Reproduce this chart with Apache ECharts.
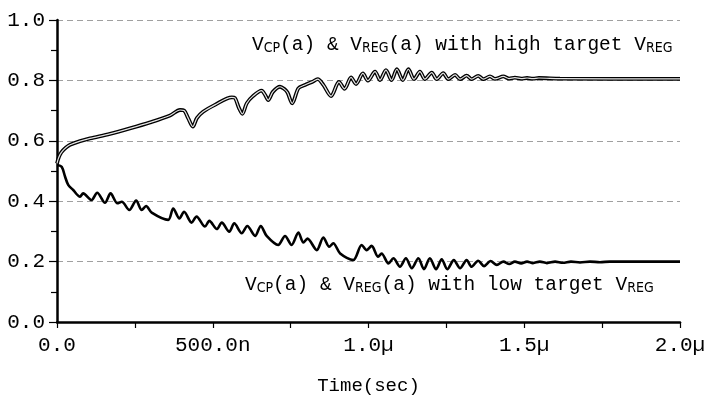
<!DOCTYPE html>
<html>
<head>
<meta charset="utf-8">
<script src="https://cdn.jsdelivr.net/npm/echarts@6/dist/echarts.min.js"></script>
<style>
html,body{margin:0;padding:0;background:#fff;}
#chart{width:709px;height:407px;}
</style>
</head>
<body>
<div id="chart"></div>
<script>
// time in ns, values in V
const highTime = [0,4,10,18,29,42,74,106,170,234,299,363,395,408,421,436,449,469,507,561,571,584,595,609,629,657,668,678,693,716,729,740,755,775,796,819,837,855,880,905,923,944,960,982,998,1021,1037,1056,1074,1091,1110,1128,1146,1165,1181,1203,1219,1240,1256,1278,1294,1315,1331,1352,1369,1390,1406,1433,1451,1470,1490,1509,1528,1547,1615,2000];
const highValue = [0.525,0.540,0.555,0.567,0.578,0.587,0.599,0.608,0.623,0.641,0.661,0.684,0.702,0.700,0.675,0.647,0.675,0.696,0.719,0.744,0.742,0.709,0.689,0.724,0.748,0.766,0.752,0.735,0.762,0.779,0.772,0.760,0.724,0.774,0.785,0.795,0.804,0.785,0.748,0.795,0.772,0.810,0.788,0.823,0.799,0.829,0.801,0.834,0.801,0.837,0.801,0.837,0.804,0.829,0.804,0.826,0.804,0.824,0.804,0.818,0.804,0.816,0.804,0.815,0.804,0.813,0.805,0.813,0.806,0.809,0.806,0.808,0.806,0.808,0.806,0.805];
const lowTime = [0,15,26,36,52,74,84,111,129,154,172,194,208,232,254,272,286,304,357,373,393,408,432,448,475,489,513,529,553,569,593,611,636,654,673,710,732,753,775,791,804,834,855,874,887,909,951,978,994,1010,1031,1042,1064,1080,1101,1120,1139,1160,1178,1197,1217,1235,1253,1274,1294,1315,1331,1352,1371,1392,1412,1433,1452,1470,1490,1509,1528,1550,1573,1599,1624,1650,1679,1711,1743,1775,1798,2000];
const lowValue = [0.52,0.514,0.481,0.454,0.437,0.415,0.426,0.404,0.428,0.395,0.426,0.393,0.398,0.371,0.402,0.371,0.384,0.362,0.338,0.376,0.343,0.365,0.329,0.349,0.316,0.335,0.308,0.329,0.299,0.327,0.294,0.318,0.285,0.318,0.285,0.255,0.285,0.255,0.296,0.263,0.276,0.238,0.280,0.249,0.261,0.227,0.205,0.255,0.238,0.252,0.216,0.227,0.194,0.211,0.183,0.211,0.178,0.211,0.175,0.211,0.175,0.208,0.175,0.205,0.178,0.205,0.183,0.203,0.185,0.202,0.189,0.200,0.192,0.200,0.194,0.200,0.195,0.200,0.195,0.200,0.196,0.200,0.197,0.200,0.198,0.200,0.200,0.200];
const xTickValues = [0,500,1000,1500,2000];
const xTickLabels = ['0.0','500.0n','1.0\u00b5','1.5\u00b5','2.0\u00b5'];
const yTickValues = [0,0.2,0.4,0.6,0.8,1.0];
const yTickLabels = ['0.0','0.2','0.4','0.6','0.8','1.0'];
const xAxisName = 'Time(sec)';

const zip = (a,b) => a.map((t,i)=>[t,b[i]]);
const highData = zip(highTime, highValue);
const lowData = zip(lowTime, lowValue);

const FONT = "'Liberation Mono','DejaVu Sans Mono',monospace";
const SUBFONT = "'DejaVu Sans Condensed','Liberation Sans Narrow',sans-serif";

const chart = echarts.init(document.getElementById('chart'), null, {renderer:'canvas'});
chart.setOption({
  animation:false,
  backgroundColor:'#fff',
  grid:{left:57,right:29,top:20,bottom:85,containLabel:false},
  xAxis:{
    type:'value',min:0,max:2000,interval:250,
    name:xAxisName,nameLocation:'middle',nameGap:54,
    nameTextStyle:{fontFamily:FONT,fontSize:19,color:'#000'},
    axisLine:{show:true,onZero:false,lineStyle:{color:'#000',width:2.5}},
    axisTick:{show:true,inside:false,length:6,lineStyle:{color:'#000',width:1.2}},
    axisLabel:{show:true,margin:13,fontFamily:FONT,fontSize:21,color:'#000',showMinLabel:true,showMaxLabel:true,hideOverlap:false,
      formatter:(v)=>{const i=xTickValues.indexOf(v);return i>=0?xTickLabels[i]:'';}},
    splitLine:{show:false}
  },
  yAxis:{
    type:'value',min:0,max:1,interval:0.2,
    axisLine:{show:true,lineStyle:{color:'#000',width:2.5}},
    axisTick:{show:true,inside:false,length:8,lineStyle:{color:'#000',width:1.2}},
    minorTick:{show:true,splitNumber:2,length:6,lineStyle:{color:'#000',width:1.2}},
    axisLabel:{margin:12,fontFamily:FONT,fontSize:21,color:'#000',
      formatter:(v)=>{const i=yTickValues.findIndex(t=>Math.abs(t-v)<1e-6);return i>=0?yTickLabels[i]:'';}},
    splitLine:{show:true,lineStyle:{color:'#a0a0a0',width:1,type:[6,4]}}
  },
  series:[
    {type:'line',data:highData,symbol:'none',smooth:0.3,z:3,lineStyle:{color:'#000',width:3.8}},
    {type:'line',data:highData,symbol:'none',smooth:0.3,z:4,lineStyle:{color:'#e4e4e4',width:1.2}},
    {type:'line',data:lowData,symbol:'none',smooth:0.3,z:3,lineStyle:{color:'#000',width:2.6}}
  ],
  graphic:[
    {type:'text',x:252,y:35,z:10,style:{
      text:'{m|V}{s|CP}{m|(a) & V}{s|REG}{m|(a) with high target V}{s|REG}',
      rich:{m:{fontFamily:FONT,fontSize:19.5,fill:'#000',verticalAlign:'bottom'},
            s:{fontFamily:SUBFONT,fontSize:14,fill:'#000',verticalAlign:'bottom'}}
    }},
    {type:'text',x:245,y:275,z:10,style:{
      text:'{m|V}{s|CP}{m|(a) & V}{s|REG}{m|(a) with low target V}{s|REG}',
      rich:{m:{fontFamily:FONT,fontSize:19.5,fill:'#000',verticalAlign:'bottom'},
            s:{fontFamily:SUBFONT,fontSize:14,fill:'#000',verticalAlign:'bottom'}}
    }}
  ]
});
</script>
</body>
</html>
